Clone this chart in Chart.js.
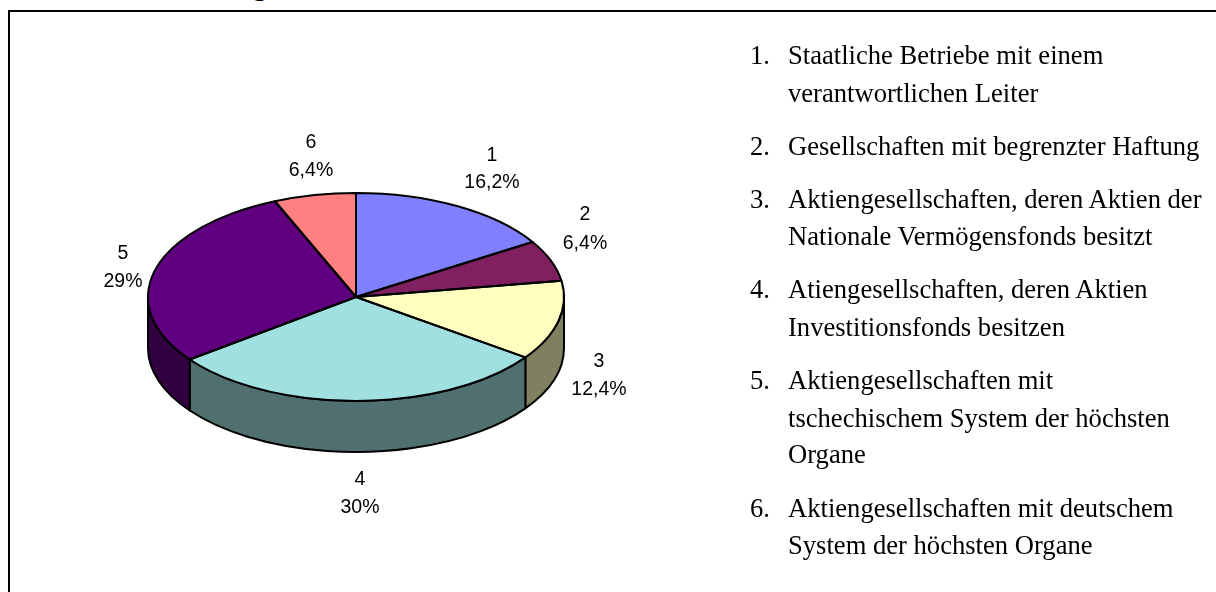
<!DOCTYPE html>
<html><head><meta charset="utf-8">
<style>
html,body{margin:0;padding:0;background:#fff;width:1216px;height:592px;overflow:hidden}
#wrap{position:relative;width:1216px;height:592px}
canvas{position:absolute;left:0;top:0}
.frame-t{position:absolute;left:8px;top:10px;width:1208px;height:2px;background:#000}
.frame-l{position:absolute;left:8px;top:10px;width:2px;height:582px;background:#000}
.t{position:absolute;font:26.6px/24px "Liberation Serif",serif;color:#000;white-space:nowrap}
.g{position:absolute;left:253px;top:-26px;font:bold 27px/24px "Liberation Serif",serif;color:#000}
</style></head><body>
<div id="wrap">
<div class="g">g</div>
<canvas id="c" width="1216" height="592"></canvas>
<div class="frame-t"></div><div class="frame-l"></div>
<div id="list"></div>
</div>
<script src="https://cdn.jsdelivr.net/npm/chart.js@4/dist/chart.umd.min.js"></script>
<script>
const categories = ["1","2","3","4","5","6"];
const values = [16.2,6.4,12.4,30,29,6.4];
const valueLabels = ["16,2%","6,4%","12,4%","30%","29%","6,4%"];
const topColors = ["#8080FF","#802060","#FFFFC0","#A0E0E0","#600080","#FF8080"];
const sideColors = ["#404080","#401030","#808060","#507070","#300040","#804040"];
const listNumbers = ["1.","2.","3.","4.","5.","6."];
const listLines = [
  ["Staatliche Betriebe mit einem","verantwortlichen Leiter"],
  ["Gesellschaften mit begrenzter Haftung"],
  ["Aktiengesellschaften, deren Aktien der","Nationale Vermögensfonds besitzt"],
  ["Atiengesellschaften, deren Aktien","Investitionsfonds besitzen"],
  ["Aktiengesellschaften mit","tschechischem System der höchsten","Organe"],
  ["Aktiengesellschaften mit deutschem","System der höchsten Organe"]
];
const listTops = [[43,81],[134],[187,224],[277,315],[368,406,442],[496,533]];

const list = document.getElementById('list');
listLines.forEach((lines,i)=>{
  lines.forEach((s,j)=>{
    const d=document.createElement('div');d.className='t';d.style.left='788px';d.style.top=listTops[i][j]+'px';d.textContent=s;list.appendChild(d);
    if(j===0){const n=document.createElement('div');n.className='t';n.style.left='750px';n.style.top=listTops[i][j]+'px';n.textContent=listNumbers[i];list.appendChild(n);}
  });
});

const TILT=0.5, DEPTH=51;
const labelPos=[[492,161,188],[585,220,249],[599,367,395],[360,485,513],[123,259,287],[311,148,176]];

const pie3d={
  id:'pie3d',
  beforeDatasetsDraw(chart){
    const ctx=chart.ctx, arcs=chart.getDatasetMeta(0).data;
    const a0=arcs[0], cx=a0.x, cy=a0.y, rx=a0.outerRadius, ry=rx*TILT;
    ctx.save();
    ctx.lineWidth=2;ctx.strokeStyle='#000';ctx.lineJoin='round';
    arcs.forEach((a,i)=>{
      const s=Math.max(a.startAngle,0), e=Math.min(a.endAngle,Math.PI);
      if(e<=s) return;
      ctx.beginPath();
      ctx.ellipse(cx,cy,rx,ry,0,s,e,false);
      ctx.ellipse(cx,cy+DEPTH,rx,ry,0,e,s,true);
      ctx.closePath();
      ctx.fillStyle=sideColors[i];ctx.fill();ctx.stroke();
    });
    ctx.restore();
    ctx.save();
    ctx.translate(0,cy);ctx.scale(1,TILT);ctx.translate(0,-cy);
  },
  afterDatasetsDraw(chart){
    const ctx=chart.ctx, arcs=chart.getDatasetMeta(0).data;
    ctx.restore();
    const a0=arcs[0], cx=a0.x, cy=a0.y, rx=a0.outerRadius, ry=rx*TILT;
    ctx.save();
    ctx.lineWidth=2;ctx.strokeStyle='#000';ctx.lineJoin='round';
    arcs.forEach(a=>{
      ctx.beginPath();ctx.moveTo(cx,cy);
      ctx.ellipse(cx,cy,rx,ry,0,a.startAngle,a.endAngle,false);
      ctx.closePath();ctx.stroke();
    });
    ctx.fillStyle='#000';ctx.font='19.5px "Liberation Sans",Arial,sans-serif';ctx.textAlign='center';ctx.textBaseline='alphabetic';
    categories.forEach((c,i)=>{
      const p=labelPos[i];
      ctx.fillText(c,p[0],p[1]);
      ctx.fillText(valueLabels[i],p[0],p[2]);
    });
    ctx.restore();
  }
};

new Chart(document.getElementById('c'),{
  type:'pie',
  data:{labels:categories,datasets:[{data:values,backgroundColor:topColors,borderWidth:0}]},
  options:{
    responsive:false,animation:false,
    layout:{padding:{left:148,right:652,top:89,bottom:87}},
    plugins:{legend:{display:false},tooltip:{enabled:false},title:{display:false}}
  },
  plugins:[pie3d]
});
</script>
</body></html>
